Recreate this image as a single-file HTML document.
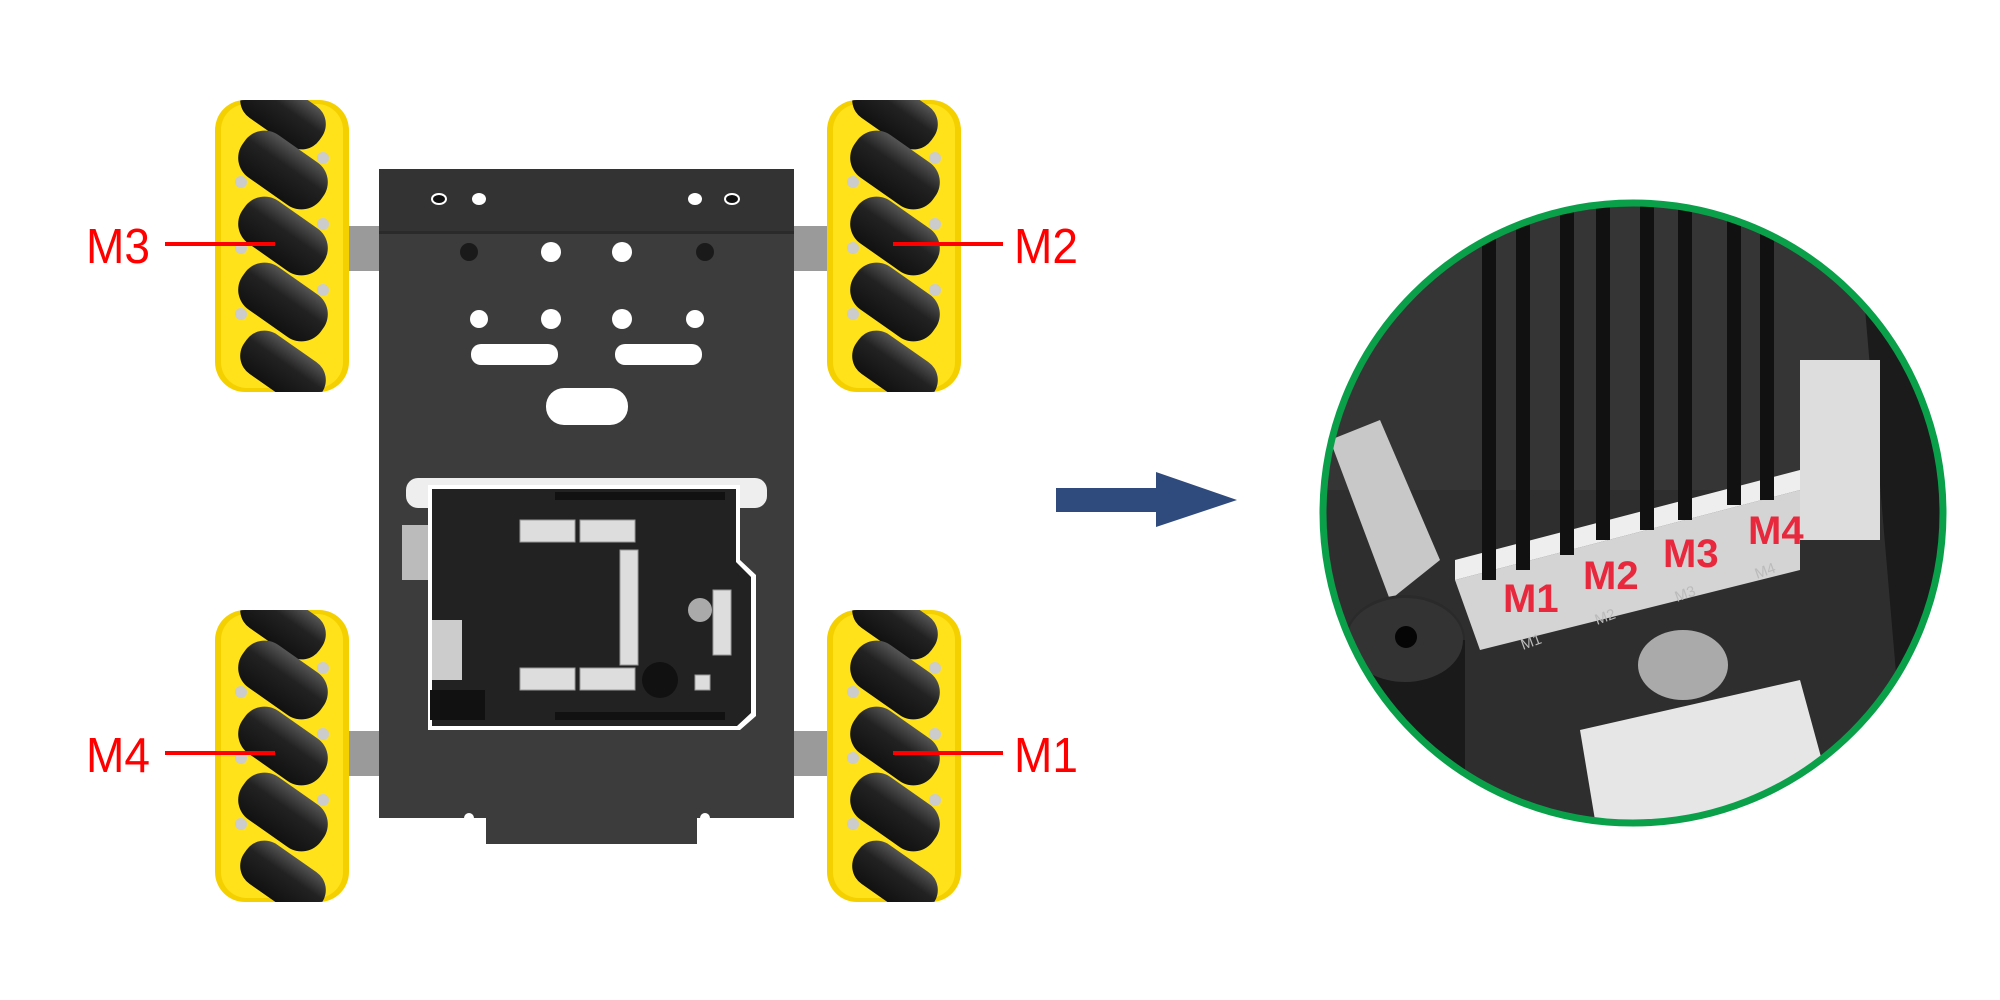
<!DOCTYPE html>
<html><head><meta charset="utf-8"><style>html,body{margin:0;padding:0;background:#fff}svg{display:block}</style></head>
<body>
<svg width="2000" height="1000" viewBox="0 0 2000 1000" xmlns="http://www.w3.org/2000/svg" font-family="Liberation Sans, sans-serif">
<defs>
<linearGradient id="rol" x1="0" y1="0" x2="0" y2="1"><stop offset="0" stop-color="#555"/><stop offset="0.4" stop-color="#222"/><stop offset="1" stop-color="#111"/></linearGradient>
<clipPath id="cc"><circle cx="1633" cy="513" r="310"/></clipPath>
<clipPath id="wc"><rect x="0" y="0" width="134" height="292" rx="30"/></clipPath>
<g id="wheel">
<rect x="0" y="0" width="134" height="292" rx="30" fill="#f5d000"/>
<g clip-path="url(#wc)">
<rect x="6" y="4" width="122" height="284" rx="26" fill="#ffe21a"/>
<g fill="url(#rol)">
<rect x="22" y="-12" width="92" height="48" rx="22" transform="rotate(35 68 12)"/>
<rect x="20" y="44" width="96" height="52" rx="24" transform="rotate(35 68 70)"/>
<rect x="20" y="110" width="96" height="52" rx="24" transform="rotate(35 68 136)"/>
<rect x="20" y="176" width="96" height="52" rx="24" transform="rotate(35 68 202)"/>
<rect x="22" y="244" width="92" height="48" rx="22" transform="rotate(35 68 268)"/>
</g>
<g fill="#ccc"><circle cx="26" cy="82" r="6"/><circle cx="108" cy="58" r="6"/><circle cx="26" cy="148" r="6"/><circle cx="108" cy="124" r="6"/><circle cx="26" cy="214" r="6"/><circle cx="108" cy="190" r="6"/></g>
</g>
</g>
</defs>

<rect x="340" y="226" width="500" height="45" fill="#9a9a9a"/>
<rect x="340" y="731" width="500" height="45" fill="#9a9a9a"/>

<path d="M379 169 H794 V818 H697 V844 H486 V818 H379 Z" fill="#3c3c3c"/>
<rect x="379" y="169" width="415" height="62" fill="#333"/>
<rect x="379" y="231" width="415" height="3" fill="#2a2a2a"/>
<g fill="#fff">
<ellipse cx="439" cy="199" rx="7" ry="5" fill="#111" stroke="#fff" stroke-width="2"/><ellipse cx="479" cy="199" rx="7" ry="6"/>
<ellipse cx="695" cy="199" rx="7" ry="6"/><ellipse cx="732" cy="199" rx="7" ry="5" fill="#111" stroke="#fff" stroke-width="2"/>
<circle cx="551" cy="252" r="10"/><circle cx="622" cy="252" r="10"/>
<circle cx="479" cy="319" r="9"/><circle cx="551" cy="319" r="10"/><circle cx="622" cy="319" r="10"/><circle cx="695" cy="319" r="9"/>
<rect x="471" y="344" width="87" height="21" rx="10"/><rect x="615" y="344" width="87" height="21" rx="10"/>
<rect x="546" y="388" width="82" height="37" rx="18"/>
<circle cx="469" cy="818" r="5"/><circle cx="705" cy="818" r="5"/>
</g>
<circle cx="469" cy="252" r="9" fill="#1a1a1a"/><circle cx="705" cy="252" r="9" fill="#1a1a1a"/>

<rect x="406" y="478" width="361" height="30" rx="12" fill="#eee"/>
<rect x="402" y="525" width="30" height="55" fill="#bbb"/>
<path d="M428 485 H740 V560 L756 575 V716 L740 730 H428 Z" fill="#fff"/>
<path d="M432 489 H736 V562 L751 577 V713 L737 726 H432 Z" fill="#222"/>
<rect x="432" y="620" width="30" height="60" fill="#ccc"/>
<rect x="430" y="690" width="55" height="30" fill="#111"/>
<g fill="#ddd" stroke="#999" stroke-width="1">
<rect x="520" y="520" width="55" height="22"/><rect x="580" y="520" width="55" height="22"/>
<rect x="520" y="668" width="55" height="22"/><rect x="580" y="668" width="55" height="22"/>
<rect x="620" y="550" width="18" height="115"/>
<rect x="713" y="590" width="18" height="65"/>
<rect x="695" y="675" width="15" height="15"/>
</g>
<circle cx="660" cy="680" r="18" fill="#111"/>
<circle cx="700" cy="610" r="12" fill="#aaa"/>
<g fill="#111"><rect x="555" y="492" width="170" height="8"/><rect x="555" y="712" width="170" height="8"/></g>

<use href="#wheel" x="215" y="100"/>
<use href="#wheel" x="827" y="100"/>
<use href="#wheel" x="215" y="610"/>
<use href="#wheel" x="827" y="610"/>

<g fill="#ff0000">
<rect x="165" y="242" width="110" height="4"/>
<rect x="893" y="242" width="110" height="4"/>
<rect x="165" y="751" width="110" height="4"/>
<rect x="893" y="751" width="110" height="4"/>
</g>
<g fill="#ff0000" font-size="49">
<text x="86" y="263" textLength="64" lengthAdjust="spacingAndGlyphs">M3</text>
<text x="1014" y="263" textLength="64" lengthAdjust="spacingAndGlyphs">M2</text>
<text x="86" y="772" textLength="64" lengthAdjust="spacingAndGlyphs">M4</text>
<text x="1014" y="772" textLength="64" lengthAdjust="spacingAndGlyphs">M1</text>
</g>

<path d="M1056 488 H1156 V472 L1237 500 L1156 527 V512 H1056 Z" fill="#2f4a7c"/>

<g clip-path="url(#cc)">
<rect x="1300" y="190" width="660" height="660" fill="#2e2e2e"/>
<rect x="1300" y="190" width="660" height="300" fill="#353535"/>
<polygon points="1860,250 1960,300 1960,700 1900,720" fill="#1b1b1b"/>
<polygon points="1330,440 1380,420 1440,560 1390,600" fill="#c8c8c8"/>
<rect x="1800" y="360" width="80" height="180" fill="#ddd"/>
<polygon points="1455,580 1800,490 1800,570 1480,650" fill="#d4d4d4"/>
<polygon points="1455,560 1800,470 1800,490 1455,580" fill="#eee"/>
<g fill="#111">
<rect x="1482" y="190" width="14" height="390"/><rect x="1516" y="190" width="14" height="380"/>
<rect x="1560" y="190" width="14" height="365"/><rect x="1596" y="190" width="14" height="350"/>
<rect x="1640" y="190" width="14" height="340"/><rect x="1678" y="190" width="14" height="330"/>
<rect x="1727" y="190" width="14" height="315"/><rect x="1760" y="190" width="14" height="310"/>
</g>
<ellipse cx="1405" cy="640" rx="60" ry="45" fill="#2a2a2a"/>
<rect x="1345" y="640" width="120" height="150" fill="#1a1a1a"/>
<ellipse cx="1405" cy="640" rx="58" ry="42" fill="#333"/>
<circle cx="1406" cy="637" r="11" fill="#050505"/>
<ellipse cx="1683" cy="665" rx="45" ry="35" fill="#aaa"/>
<polygon points="1580,730 1800,680 1830,790 1600,850" fill="#e6e6e6"/>
<g fill="#bbb" font-size="15"><text x="1523" y="650" transform="rotate(-20 1523 650)">M1</text><text x="1597" y="625" transform="rotate(-20 1597 625)">M2</text><text x="1677" y="602" transform="rotate(-20 1677 602)">M3</text><text x="1757" y="579" transform="rotate(-20 1757 579)">M4</text></g>
</g>
<circle cx="1633" cy="513" r="310" fill="none" stroke="#0aa04a" stroke-width="7"/>
<g fill="#e8283c" font-size="40" font-weight="bold">
<text x="1503" y="612">M1</text>
<text x="1583" y="589">M2</text>
<text x="1663" y="567">M3</text>
<text x="1748" y="544">M4</text>
</g>
</svg>
</body></html>
